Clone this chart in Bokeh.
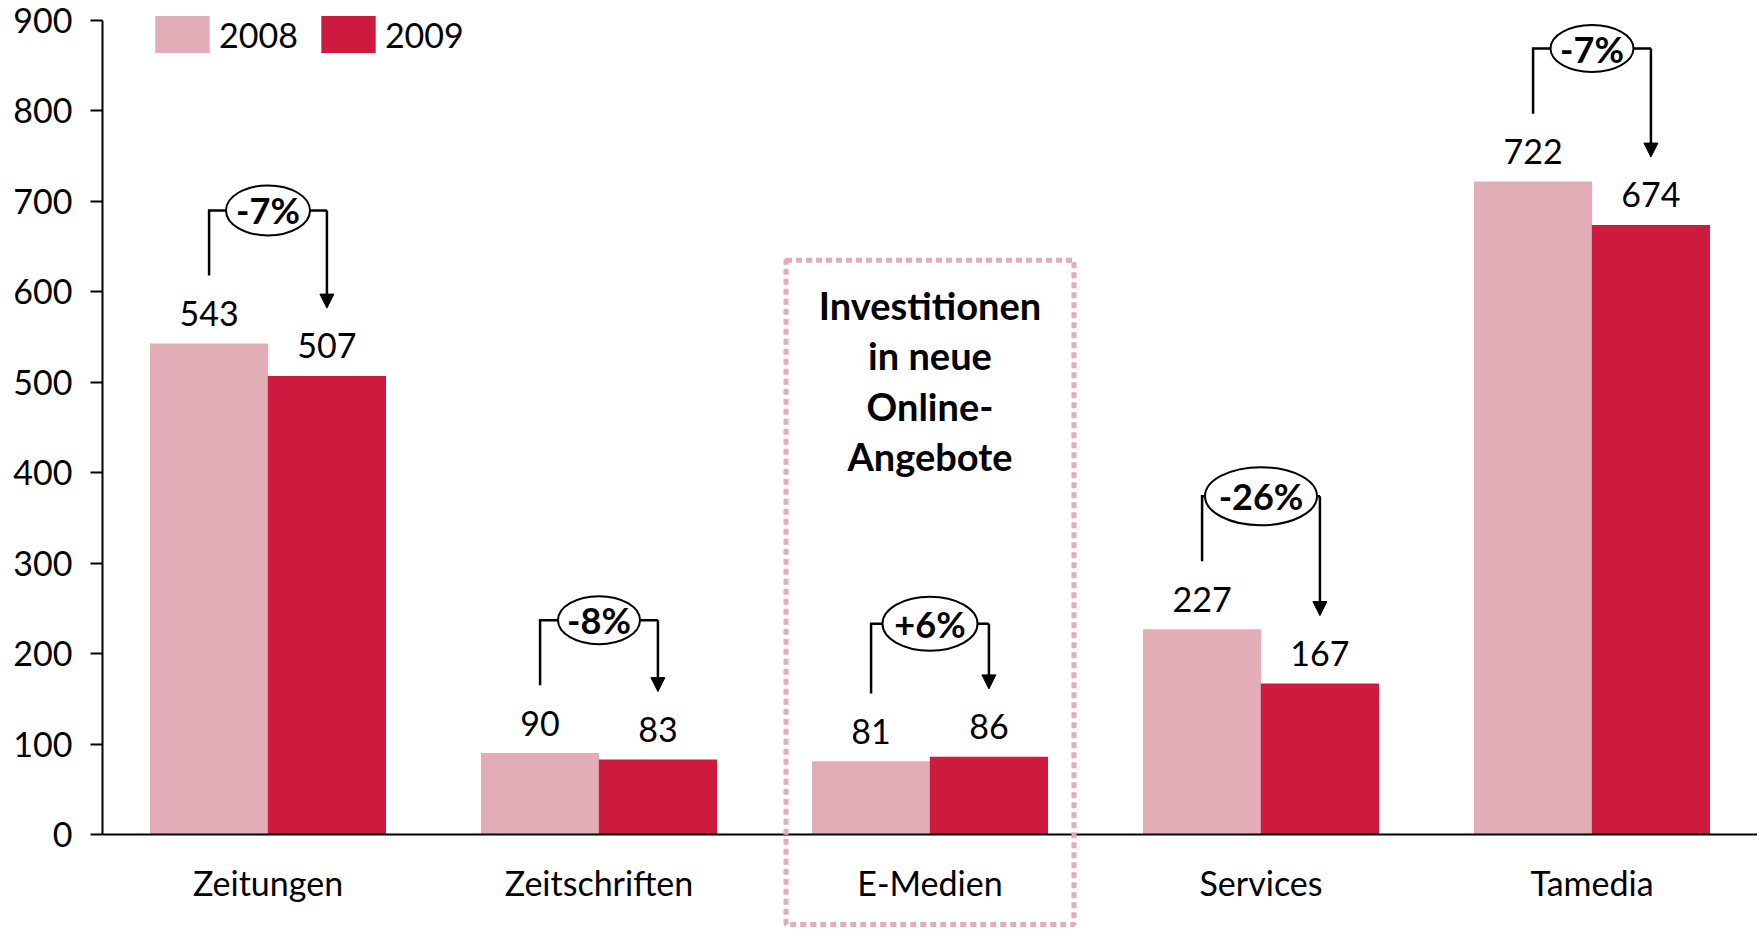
from bokeh.plotting import figure
from bokeh.models import (Range1d, FixedTicker, Span, BoxAnnotation, Arrow, NormalHead,
                          Legend, LegendItem, ColumnDataSource)
from bokeh.core.properties import value
from bokeh.embed import file_html
from bokeh.resources import INLINE

# ---------------- data ----------------
categories = ["Zeitungen", "Zeitschriften", "E-Medien", "Services", "Tamedia"]
values_2008 = [543, 90, 81, 227, 722]
values_2009 = [507, 83, 86, 167, 674]
change_labels = ["-7%", "-8%", "+6%", "-26%", "-7%"]
y_ticks = [0, 100, 200, 300, 400, 500, 600, 700, 800, 900]
series_labels = ["2008", "2009"]
box_category = "E-Medien"
box_text = "Investitionen\nin neue\nOnline-\nAngebote"

# ---------------- style ----------------
COL08 = "#E2ADB6"
COL09 = "#CC1B3F"
FONT = "Lato"
PX_PER_UNIT = 814 / 900.0
FRAME_W = 1655
FRAME_H = 927
TOP_PX = 20                      # pixels between frame top and the 900 tick
Y_END = 900 + TOP_PX / PX_PER_UNIT
Y_START = Y_END - FRAME_H / PX_PER_UNIT
OFF = 0.178
BW = 0.357
ell_w = [84, 82, 95, 112, 83]
ell_h = [50, 48, 54, 58, 47]
LEG_BOTTOM_PX = 57               # legend bottom, px from frame top

idx = list(range(len(categories)))
src = ColumnDataSource(dict(
    cx=idx,
    cat=categories,
    x08=[i - OFF for i in idx],
    x09=[i + OFF for i in idx],
    v08=values_2008,
    v09=values_2009,
    lab08=[str(v) for v in values_2008],
    lab09=[str(v) for v in values_2009],
    top=[max(a, b) + 147 for a, b in zip(values_2008, values_2009)],
    lo08=[a + 75 for a in values_2008],
    lo09=[b + 75 for b in values_2009],
    chg=change_labels,
    ew=ell_w,
    eh=ell_h,
))

p = figure(frame_width=FRAME_W, frame_height=FRAME_H,
           x_range=Range1d(-0.5, len(categories) - 0.5),
           y_range=Range1d(Y_START, Y_END),
           output_backend="svg", toolbar_location=None,
           x_axis_location=None,
           min_border_left=102, min_border_right=0, min_border_top=0, min_border_bottom=0)
p.outline_line_color = None
p.grid.visible = False
p.background_fill_color = "white"

# bars
r08 = p.vbar(x="x08", top="v08", bottom=0, width=BW, fill_color=COL08, line_color=None, source=src)
r09 = p.vbar(x="x09", top="v09", bottom=0, width=BW, fill_color=COL09, line_color=None, source=src)

# baseline
p.add_layout(Span(location=0, dimension="width", line_color="black", line_width=2))

# y axis
ya = p.yaxis[0]
ya.ticker = FixedTicker(ticks=y_ticks)
ya.bounds = (0, 900)
ya.axis_line_width = 2
ya.axis_line_color = "black"
ya.major_tick_line_width = 2
ya.major_tick_line_color = "black"
ya.major_tick_out = 12
ya.major_tick_in = 0
ya.minor_tick_out = 0
ya.minor_tick_in = 0
ya.major_label_standoff = 18
ya.major_label_text_font = FONT
ya.major_label_text_font_size = "34px"
ya.major_label_text_color = "black"

# value labels
txt = dict(text_align="center", text_font=value(FONT), text_font_size="34px", text_color="black")
p.text(x="x08", y="v08", text="lab08", text_baseline="alphabetic", y_offset=-30, source=src, **txt)
p.text(x="x09", y="v09", text="lab09", text_baseline="alphabetic", y_offset=-30, source=src, **txt)

# category labels
p.text(x="cx", y=0, text="cat", text_baseline="alphabetic", y_offset=48, source=src, **txt)

# brackets
xs = [[a, a, b] for a, b in zip(src.data["x08"], src.data["x09"])]
ys = [[lo, t, t] for lo, t in zip(src.data["lo08"], src.data["top"])]
p.multi_line(xs=xs, ys=ys, line_color="black", line_width=2.5, line_join="miter")
p.add_layout(Arrow(x_start="x09", y_start="top", x_end="x09", y_end="lo09", source=src,
                   line_color="black", line_width=2.5,
                   end=NormalHead(size=14, fill_color="black", line_color="black", line_width=1)))
p.ellipse(x="cx", y="top", width="ew", height="eh", width_units="screen", height_units="screen",
          fill_color="white", line_color="black", line_width=2, source=src)
p.text(x="cx", y="top", text="chg", text_align="center", text_baseline="middle",
       text_font=value(FONT), text_font_style="bold", text_font_size="36px",
       text_color="black", source=src)

# dotted highlight box
bi = categories.index(box_category)
p.add_layout(BoxAnnotation(left=bi - 0.435, right=bi + 0.435, top=635,
                           bottom=Y_START + 3 / PX_PER_UNIT,
                           fill_color=None, line_color=COL08, line_alpha=1.0,
                           line_width=5, line_dash="6 4"))
p.text(x=[bi], y=[502], text=[box_text], text_align="center", text_baseline="middle",
       text_font=value(FONT), text_font_style="bold", text_font_size="38px",
       text_line_height=1.1, text_color="black")

# legend
legend = Legend(items=[LegendItem(label=series_labels[0], renderers=[r08]),
                       LegendItem(label=series_labels[1], renderers=[r09])],
                location=(46, FRAME_H - LEG_BOTTOM_PX), orientation="horizontal",
                glyph_width=68, glyph_height=46, label_standoff=3, spacing=16,
                padding=0, margin=0, border_line_color=None, background_fill_alpha=0,
                label_text_font=FONT, label_text_font_size="34px", label_text_color="black")
p.add_layout(legend)

open("out.html", "w").write(file_html(p, INLINE))
